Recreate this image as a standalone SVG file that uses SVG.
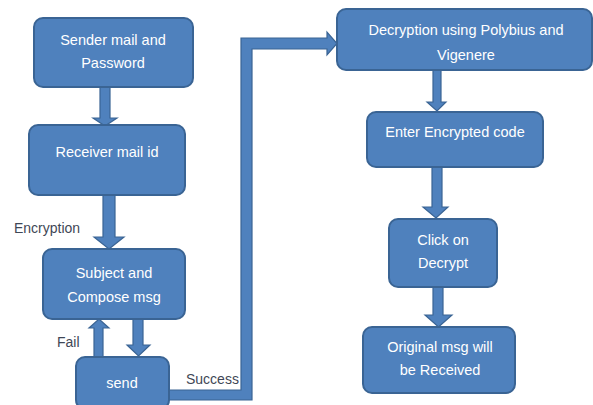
<svg xmlns="http://www.w3.org/2000/svg" width="593" height="405" viewBox="0 0 593 405">
<style>
.box{fill:#4F81BD;stroke:#3A6494;stroke-width:2}
.arr{fill:#4F81BD;stroke:#3A6494;stroke-width:1.2;stroke-linejoin:miter}
.t{font-family:"Liberation Sans",Arial,sans-serif;font-size:14.5px;fill:#FFFFFF;text-anchor:middle}
.lbl{font-family:"Liberation Sans",Arial,sans-serif;font-size:14px;fill:#3F4756}
</style>
<rect width="593" height="405" fill="#FFFFFF"/>
<g id="connectors">
<polygon class="arr" points="100,87 110,87 110,118 117,118 105,126 93,118 100,118"/>
<polygon class="arr" points="103,195 115,195 115,237 124,237 109,249 94,237 103,237"/>
<polygon class="arr" points="133,319 143,319 143,345 150,345 138.5,356 127,345 133,345"/>
<polygon class="arr" points="94,357 103,357 103,328 109,328 99,319 89,328 94,328"/>
<polygon class="arr" points="169,390 241,390 241,38 327,38 327,32 337,43.5 327,55 327,49 252,49 252,400 169,400"/>
<polygon class="arr" points="433,70 441,70 441,102 446,102 437,111 427,102 433,102"/>
<polygon class="arr" points="432,167 442,167 442,207 448,207 436,218 423,207 432,207"/>
<polygon class="arr" points="433,287 443,287 443,315 452,315 438.5,327 425,315 433,315"/>
</g>
<g id="n-sender"><rect class="box" x="34" y="18" width="159" height="69" rx="9"/><text class="t" x="113" y="45">Sender mail and</text><text class="t" x="113" y="68">Password</text></g>
<g id="n-receiver"><rect class="box" x="29" y="125" width="156" height="70" rx="9"/><text class="t" x="107" y="157">Receiver mail id</text></g>
<g id="n-subject"><rect class="box" x="43" y="249" width="142" height="70" rx="9"/><text class="t" x="114" y="278">Subject and</text><text class="t" x="114" y="302">Compose msg</text></g>
<g id="n-send"><rect class="box" x="76" y="357" width="93" height="52" rx="9"/><text class="t" x="122" y="388">send</text></g>
<g id="n-decryption"><rect class="box" x="337" y="9" width="255" height="61" rx="9"/><text class="t" x="466" y="35">Decryption using Polybius and</text><text class="t" x="466" y="60">Vigenere</text></g>
<g id="n-enter"><rect class="box" x="367" y="112" width="176" height="55" rx="9"/><text class="t" x="455" y="137">Enter Encrypted code</text></g>
<g id="n-click"><rect class="box" x="389" y="219" width="108" height="68" rx="9"/><text class="t" x="443" y="245">Click on</text><text class="t" x="443" y="268">Decrypt</text></g>
<g id="n-original"><rect class="box" x="363" y="327" width="152" height="66" rx="9"/><text class="t" x="440" y="352">Original msg will</text><text class="t" x="440" y="375">be Received</text></g>
<g id="labels">
<text class="lbl" x="14" y="233">Encryption</text>
<text class="lbl" x="57" y="347">Fail</text>
<text class="lbl" x="186" y="384">Success</text>
</g>
</svg>
